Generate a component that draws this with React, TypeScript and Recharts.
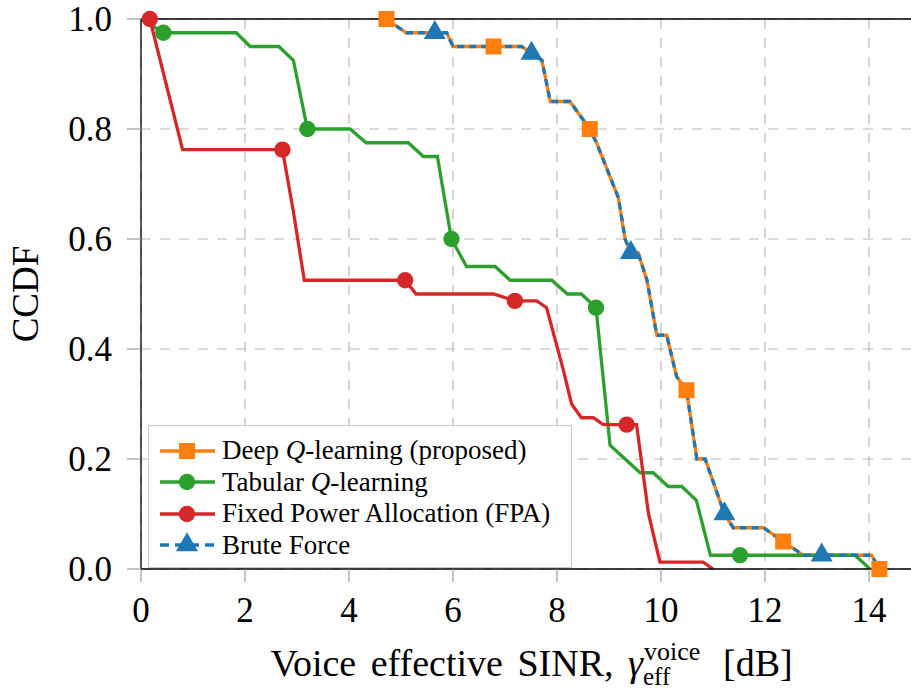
import React from "react";
import {
  LineChart,
  Line,
  XAxis,
  YAxis,
  CartesianGrid,
  Legend,
  ReferenceLine,
} from "recharts";

const SERIF = "'Liberation Serif', 'DejaVu Serif', serif";

// CCDF of the voice effective SINR (x in dB, y = CCDF)
// marks = indices of the points that carry a marker
const deepQX = [4.72, 5.1, 5.65, 5.88, 6.0, 6.78, 7.32, 7.51, 7.71, 7.87, 8.25, 8.63, 8.76, 9.18, 9.31, 9.42, 9.56, 9.73, 9.92, 10.11, 10.3, 10.49, 10.69, 10.85, 11.22, 11.39, 11.97, 12.35, 12.74, 13.09, 14.05, 14.2];
const deepQY = [1.0, 0.975, 0.975, 0.975, 0.95, 0.95, 0.95, 0.9375, 0.925, 0.85, 0.85, 0.8, 0.775, 0.675, 0.6, 0.575, 0.575, 0.525, 0.425, 0.425, 0.35, 0.325, 0.2, 0.2, 0.1, 0.075, 0.075, 0.05, 0.025, 0.025, 0.025, 0.0];
const deepQMarks = [0, 5, 11, 21, 27, 31];

// brute force gives the very same curve as deep Q-learning
const bruteX = [4.72, 5.1, 5.65, 5.88, 6.0, 6.78, 7.32, 7.51, 7.71, 7.87, 8.25, 8.63, 8.76, 9.18, 9.31, 9.42, 9.56, 9.73, 9.92, 10.11, 10.3, 10.49, 10.69, 10.85, 11.22, 11.39, 11.97, 12.35, 12.74, 13.09, 14.05, 14.2];
const bruteY = [1.0, 0.975, 0.975, 0.975, 0.95, 0.95, 0.95, 0.9375, 0.925, 0.85, 0.85, 0.8, 0.775, 0.675, 0.6, 0.575, 0.575, 0.525, 0.425, 0.425, 0.35, 0.325, 0.2, 0.2, 0.1, 0.075, 0.075, 0.05, 0.025, 0.025, 0.025, 0.0];
const bruteMarks = [2, 7, 15, 24, 29];

const tabularX = [0.02, 0.43, 1.83, 2.1, 2.65, 2.93, 3.2, 4.02, 4.33, 5.14, 5.43, 5.7, 5.97, 6.26, 6.81, 7.1, 7.9, 8.2, 8.47, 8.75, 9.02, 9.6, 9.85, 10.14, 10.4, 10.68, 10.95, 11.52, 13.73, 14.02];
const tabularY = [1.0, 0.975, 0.975, 0.95, 0.95, 0.925, 0.8, 0.8, 0.775, 0.775, 0.75, 0.75, 0.6, 0.55, 0.55, 0.525, 0.525, 0.5, 0.5, 0.475, 0.225, 0.175, 0.175, 0.15, 0.15, 0.125, 0.025, 0.025, 0.025, 0.0];
const tabularMarks = [1, 6, 12, 19, 27];

const fpaX = [0.17, 0.8, 2.72, 2.93, 3.14, 5.08, 5.29, 6.78, 7.19, 7.61, 7.8, 8.12, 8.28, 8.47, 8.7, 8.89, 9.34, 9.53, 9.76, 9.98, 10.81, 11.0];
const fpaY = [1.0, 0.7625, 0.7625, 0.65, 0.525, 0.525, 0.5, 0.5, 0.4875, 0.4875, 0.475, 0.3625, 0.3, 0.275, 0.275, 0.2625, 0.2625, 0.2625, 0.1, 0.0125, 0.0125, 0.0];
const fpaMarks = [0, 2, 5, 8, 16];

const xTicks = [0, 2, 4, 6, 8, 10, 12, 14];
const yTicks = [0, 0.2, 0.4, 0.6, 0.8, 1.0];

const ORANGE = "#ff7f0e";
const GREEN = "#2ca02c";
const RED = "#d62728";
const BLUE = "#1f77b4";
const LINE_W = 3.3;

type Shape = "square" | "circle" | "triangle";

const toRows = (xs: number[], ys: number[], marks: number[]) =>
  xs.map((x, i) => ({ x, y: ys[i], m: marks.includes(i) }));

const deepQRows = toRows(deepQX, deepQY, deepQMarks);
const bruteRows = toRows(bruteX, bruteY, bruteMarks);
const tabularRows = toRows(tabularX, tabularY, tabularMarks);
const fpaRows = toRows(fpaX, fpaY, fpaMarks);

const legendItems: { name: string; color: string; shape: Shape; dash?: string }[] = [
  { name: "Deep Q-learning (proposed)", color: ORANGE, shape: "square" },
  { name: "Tabular Q-learning", color: GREEN, shape: "circle" },
  { name: "Fixed Power Allocation (FPA)", color: RED, shape: "circle" },
  { name: "Brute Force", color: BLUE, shape: "triangle", dash: "9 6" },
];

function Marker({ shape, x, y, color }: { shape: Shape; x: number; y: number; color: string }) {
  if (shape === "square") {
    return <rect x={x - 8} y={y - 8} width={16} height={16} fill={color} />;
  }
  if (shape === "circle") {
    return <circle cx={x} cy={y} r={8.2} fill={color} />;
  }
  return (
    <polygon
      points={`${x},${y - 12.7} ${x + 11},${y + 6.35} ${x - 11},${y + 6.35}`}
      fill={color}
    />
  );
}

const dotFor = (shape: Shape, color: string) => (props: any) => {
  const { cx, cy, payload, index } = props;
  if (!payload || !payload.m || cx == null || cy == null) {
    return <g key={`d-${index}`} />;
  }
  return (
    <g key={`d-${index}`}>
      <Marker shape={shape} x={cx} y={cy} color={color} />
    </g>
  );
};

// tick labels drawn by hand so the serif font is kept
function XTick(props: any) {
  const { x, y, payload } = props;
  return (
    <text x={x} y={y} dy="0.71em" textAnchor="middle" fontFamily={SERIF} fontSize={35} fill="#000">
      {payload.value}
    </text>
  );
}

function YTick(props: any) {
  const { x, y, payload } = props;
  return (
    <text x={x} y={y} dy="0.355em" textAnchor="end" fontFamily={SERIF} fontSize={35} fill="#000">
      {Number(payload.value).toFixed(1)}
    </text>
  );
}

// italic math Q inside the legend names
function renderName(name: string) {
  const parts = name.split("Q");
  return parts.map((p, i) => (
    <React.Fragment key={i}>
      {i > 0 && <span style={{ fontStyle: "italic" }}>Q</span>}
      {p}
    </React.Fragment>
  ));
}

function LegendBox() {
  return (
    <div
      style={{
        width: 424,
        boxSizing: "border-box",
        border: "1.3px solid #c8c8c8",
        background: "#fff",
        padding: "9px 10px 6px 11px",
        fontFamily: SERIF,
        fontSize: 27,
        color: "#000",
      }}
    >
      {legendItems.map((it) => (
        <div key={it.name} style={{ display: "flex", alignItems: "center", height: 31.5 }}>
          <svg width={55} height={26} style={{ flex: "none" }}>
            <line
              x1={0}
              y1={13}
              x2={55}
              y2={13}
              stroke={it.color}
              strokeWidth={LINE_W}
              strokeDasharray={it.dash}
            />
            <Marker shape={it.shape} x={27} y={13} color={it.color} />
          </svg>
          <span style={{ marginLeft: 7, whiteSpace: "nowrap", lineHeight: 1 }}>
            {renderName(it.name)}
          </span>
        </div>
      ))}
    </div>
  );
}

function XTitle(props: any) {
  const vb = props.viewBox || { x: 141, y: 569, width: 780, height: 120 };
  const cx = vb.x + vb.width / 2;
  const base = vb.y + 107;
  const p = cx + 112;
  return (
    <g fontFamily={SERIF} fill="#000">
      <text x={p} y={base} fontSize={38} textAnchor="end" wordSpacing={5}>
        Voice effective SINR, <tspan fontStyle="italic">γ</tspan>
      </text>
      <text x={p + 1} y={base - 16} fontSize={26}>
        voice
      </text>
      <text x={p} y={base + 9} fontSize={25}>
        eff
      </text>
      <text x={p + 80} y={base} fontSize={38}>
        [dB]
      </text>
    </g>
  );
}

function YTitle(props: any) {
  const vb = props.viewBox || { x: 0, y: 19, width: 141, height: 550 };
  const cy = vb.y + vb.height / 2;
  const x = vb.x + 38;
  return (
    <text
      x={x}
      y={cy}
      fontFamily={SERIF}
      fontSize={37}
      fill="#000"
      textAnchor="middle"
      transform={`rotate(-90, ${x}, ${cy})`}
    >
      CCDF
    </text>
  );
}

export default function App() {
  return (
    <div
      style={{
        position: "fixed",
        left: 0,
        top: 0,
        width: 911,
        height: 689,
        overflow: "hidden",
        background: "#fff",
        fontFamily: SERIF,
      }}
    >
      <LineChart width={925} height={689} margin={{ top: 19, right: 4, left: 0, bottom: 0 }}>
        <CartesianGrid stroke="#b8b8b8" strokeWidth={1.2} strokeDasharray="10 9" />
        <XAxis
          type="number"
          dataKey="x"
          domain={[0, 15]}
          ticks={xTicks}
          interval={0}
          height={120}
          tick={<XTick />}
          tickSize={13}
          tickMargin={15}
          tickLine={{ stroke: "#9a9a9a", strokeWidth: 1.2 }}
          axisLine={{ stroke: "#000", strokeWidth: 1.3 }}
          label={<XTitle />}
        />
        <YAxis
          type="number"
          domain={[0, 1]}
          ticks={yTicks}
          interval={0}
          width={141}
          tick={<YTick />}
          tickSize={14}
          tickMargin={15}
          tickLine={{ stroke: "#9a9a9a", strokeWidth: 1.2 }}
          axisLine={{ stroke: "#000", strokeWidth: 1.3 }}
          label={<YTitle />}
        />
        <ReferenceLine y={1} stroke="#000" strokeWidth={1.3} />
        <Line
          data={deepQRows}
          dataKey="y"
          type="linear"
          stroke={ORANGE}
          strokeWidth={LINE_W}
          dot={dotFor("square", ORANGE)}
          activeDot={false}
          isAnimationActive={false}
        />
        <Line
          data={tabularRows}
          dataKey="y"
          type="linear"
          stroke={GREEN}
          strokeWidth={LINE_W}
          dot={dotFor("circle", GREEN)}
          activeDot={false}
          isAnimationActive={false}
        />
        <Line
          data={fpaRows}
          dataKey="y"
          type="linear"
          stroke={RED}
          strokeWidth={LINE_W}
          dot={dotFor("circle", RED)}
          activeDot={false}
          isAnimationActive={false}
        />
        <Line
          data={bruteRows}
          dataKey="y"
          type="linear"
          stroke={BLUE}
          strokeWidth={LINE_W}
          strokeDasharray="7 5"
          dot={dotFor("triangle", BLUE)}
          activeDot={false}
          isAnimationActive={false}
        />
        <Legend
          layout="vertical"
          align="center"
          verticalAlign="middle"
          content={() => <LegendBox />}
          wrapperStyle={{ left: 148, top: 425, width: 424, height: "auto" }}
        />
      </LineChart>
    </div>
  );
}
